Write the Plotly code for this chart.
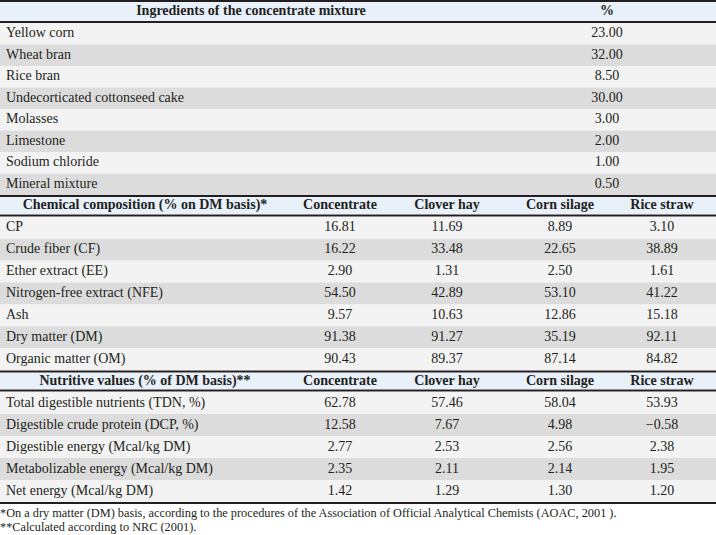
import plotly.graph_objects as go

# ==============================================================================
# DATA
# ==============================================================================

ING_HEADER = ["Ingredients of the concentrate mixture", "%"]
ING_NAMES = ["Yellow corn", "Wheat bran", "Rice bran", "Undecorticated cottonseed cake",
             "Molasses", "Limestone", "Sodium chloride", "Mineral mixture"]
ING_PCT = [23.00, 32.00, 8.50, 30.00, 3.00, 2.00, 1.00, 0.50]

FEED_COLS = ["Concentrate", "Clover hay", "Corn silage", "Rice straw"]

CHEM_HEADER = "Chemical composition (% on DM basis)*"
CHEM_NAMES = ["CP", "Crude fiber (CF)", "Ether extract (EE)", "Nitrogen-free extract (NFE)",
              "Ash", "Dry matter (DM)", "Organic matter (OM)"]
CHEM_CONC = [16.81, 16.22, 2.90, 54.50, 9.57, 91.38, 90.43]
CHEM_CLOVER = [11.69, 33.48, 1.31, 42.89, 10.63, 91.27, 89.37]
CHEM_SILAGE = [8.89, 22.65, 2.50, 53.10, 12.86, 35.19, 87.14]
CHEM_STRAW = [3.10, 38.89, 1.61, 41.22, 15.18, 92.11, 84.82]

NUT_HEADER = "Nutritive values (% of DM basis)**"
NUT_NAMES = ["Total digestible nutrients (TDN, %)", "Digestible crude protein (DCP, %)",
             "Digestible energy (Mcal/kg DM)", "Metabolizable energy (Mcal/kg DM)",
             "Net energy (Mcal/kg DM)"]
NUT_CONC = [62.78, 12.58, 2.77, 2.35, 1.42]
NUT_CLOVER = [57.46, 7.67, 2.53, 2.11, 1.29]
NUT_SILAGE = [58.04, 4.98, 2.56, 2.14, 1.30]
NUT_STRAW = [53.93, -0.58, 2.38, 1.95, 1.20]

FOOTNOTES = [
    "*On a dry matter (DM) basis, according to the procedures of the Association of Official Analytical Chemists (AOAC, 2001 ).",
    "**Calculated according to NRC (2001).",
]

# ==============================================================================
# LAYOUT CONSTANTS (pixels)
# ==============================================================================

W, H = 716, 535
FONT = "Liberation Serif"
TXT = "#231f20"
HEAD_BG = "#e8f0fa"
ROW_BG = ["#f3f3f3", "#dcdcdc"]
BODY_SIZE = 14
HEAD_SIZE = 14
NOTE_SIZE = 12.3
NAME_X = 6
ING_HEAD_X = 251
ING_VAL_X = 607
HEAD_NAME_X = 145
FEED_X = [340, 447, 560, 662]

# (header top, header bottom, rows top, row height, n rows)
SEC1 = (2, 21, 23, 21.5, len(ING_NAMES))
SEC2 = (197, 214, 217, 21.86, len(CHEM_NAMES))
SEC3 = (373, 389, 392, 22.0, len(NUT_NAMES))
LINES_Y = [1, 22, 196, 215.5, 371.5, 390.5, 503]


def fmt(v):
    return f"{v:.2f}".replace("-", "\u2212")


def row_centres(sec):
    top, h, n = sec[2], sec[3], sec[4]
    return [top + h * (i + 0.5) for i in range(n)]


fig = go.Figure()
shapes = []

# backgrounds
for sec in (SEC1, SEC2, SEC3):
    shapes.append(dict(type="rect", x0=0, x1=W, y0=sec[0], y1=sec[1],
                       fillcolor=HEAD_BG, line_width=0, layer="below"))
    for i in range(sec[4]):
        y0 = sec[2] + sec[3] * i
        shapes.append(dict(type="rect", x0=0, x1=W, y0=y0, y1=y0 + sec[3],
                           fillcolor=ROW_BG[i % 2], line_width=0, layer="below"))

for y in LINES_Y:
    shapes.append(dict(type="line", x0=0, x1=W, y0=y, y1=y,
                       line=dict(color=TXT, width=2)))


def add_text(xs, ys, texts, pos, bold=False, size=BODY_SIZE):
    if bold:
        texts = [f"<b>{t}</b>" for t in texts]
    fig.add_trace(go.Scatter(
        x=xs, y=ys, text=texts, mode="text", textposition=pos,
        textfont=dict(family=FONT, size=size, color=TXT),
        hoverinfo="skip", showlegend=False
    ))


# section 1: ingredients
h1 = (SEC1[0] + SEC1[1]) / 2
add_text([ING_HEAD_X, ING_VAL_X], [h1, h1], ING_HEADER, "middle center", bold=True, size=HEAD_SIZE)
ys = row_centres(SEC1)
add_text([NAME_X] * len(ys), ys, ING_NAMES, "middle right")
add_text([ING_VAL_X] * len(ys), ys, [fmt(v) for v in ING_PCT], "middle center")

# sections 2 and 3
for sec, head, names, cols in (
    (SEC2, CHEM_HEADER, CHEM_NAMES, [CHEM_CONC, CHEM_CLOVER, CHEM_SILAGE, CHEM_STRAW]),
    (SEC3, NUT_HEADER, NUT_NAMES, [NUT_CONC, NUT_CLOVER, NUT_SILAGE, NUT_STRAW]),
):
    hy = (sec[0] + sec[1]) / 2
    add_text([HEAD_NAME_X] + FEED_X, [hy] * 5, [head] + FEED_COLS, "middle center",
             bold=True, size=HEAD_SIZE)
    ys = row_centres(sec)
    add_text([NAME_X] * len(ys), ys, names, "middle right")
    for x, vals in zip(FEED_X, cols):
        add_text([x] * len(ys), ys, [fmt(v) for v in vals], "middle center")

# footnotes
add_text([0, 0], [514, 528], FOOTNOTES, "middle right", size=NOTE_SIZE)

fig.update_layout(
    width=W, height=H,
    margin=dict(l=0, r=0, t=0, b=0),
    plot_bgcolor="white", paper_bgcolor="white",
    xaxis=dict(range=[0, W], visible=False, fixedrange=True),
    yaxis=dict(range=[H, 0], visible=False, fixedrange=True),
    shapes=shapes,
)

fig.write_html("out.html", config={"displayModeBar": False},
               post_script="document.body.style.margin='0';document.body.style.overflow='hidden';")
